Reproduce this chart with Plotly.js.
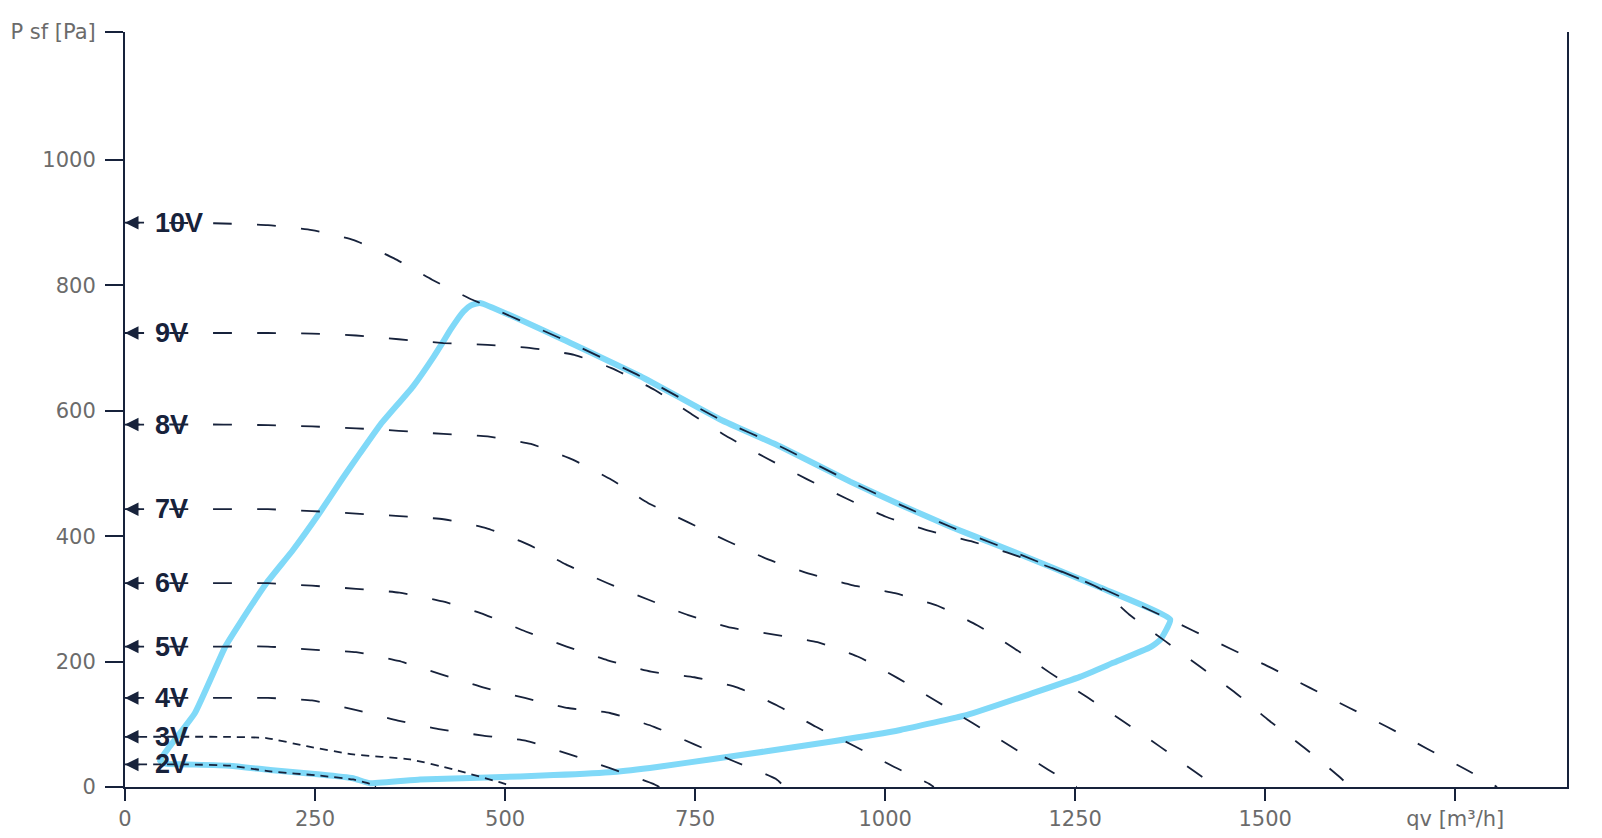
<!DOCTYPE html>
<html>
<head>
<meta charset="utf-8">
<script src="https://cdn.plot.ly/plotly-3.0.1.min.js"></script>
<style>html,body{margin:0;padding:0;background:#fff;}#chart{width:1602px;height:838px;}</style>
</head>
<body>
<div id="chart"></div>
<script>
// ---- data (qv in m3/h, P sf in Pa) ----
const xTickVals = [0, 250, 500, 750, 1000, 1250, 1500, 1750];
const xTickText = ["0", "250", "500", "750", "1000", "1250", "1500", "qv [m\u00b3/h]"];
const yTickVals = [0, 200, 400, 600, 800, 1000, 1204];
const yTickText = ["0", "200", "400", "600", "800", "1000", "P sf [Pa]"];

const voltLabels = ["10V", "9V", "8V", "7V", "6V", "5V", "4V", "3V", "2V"];

const q10 = [0, 117, 188, 246, 301, 354, 404, 457, 467, 572, 678, 783, 862, 954, 1020, 1086, 1151, 1283, 1375, 1404, 1455, 1508, 1559, 1611, 1662, 1713, 1764, 1805];
const p10 = [900, 899, 896, 888, 872, 843, 809, 777, 772, 716, 655, 586, 543, 487, 450, 415, 384, 318, 267, 250, 220, 190, 158, 126, 95, 61, 28, 0];

const q9 = [0, 130, 188, 246, 304, 360, 419, 477, 534, 591, 640, 697, 746, 795, 846, 897, 949, 1001, 1057, 1113, 1160, 1220, 1283, 1321, 1368, 1414, 1461, 1505, 1551, 1596, 1612];
const p9 = [724, 724, 724, 723, 720, 714, 708, 705, 700, 689, 668, 633, 594, 557, 523, 491, 460, 431, 409, 392, 374, 349, 316, 275, 233, 192, 150, 106, 63, 18, 0];

const q8 = [0, 130, 188, 246, 304, 360, 419, 477, 534, 589, 640, 688, 741, 793, 846, 901, 956, 1013, 1069, 1121, 1170, 1217, 1266, 1314, 1362, 1409, 1437];
const p8 = [578, 578, 577, 575, 572, 568, 563, 559, 547, 522, 490, 453, 422, 392, 363, 340, 322, 309, 289, 258, 221, 182, 143, 104, 64, 23, 0];

const q7 = [0, 130, 188, 246, 304, 361, 419, 475, 530, 580, 635, 688, 741, 797, 854, 911, 966, 1016, 1066, 1115, 1165, 1214, 1252];
const p7 = [443, 443, 443, 440, 436, 432, 427, 413, 387, 355, 325, 299, 274, 254, 243, 231, 207, 174, 138, 102, 65, 28, 0];

const q6 = [0, 130, 188, 246, 304, 361, 418, 473, 527, 581, 635, 692, 749, 805, 858, 909, 960, 1012, 1058, 1064];
const p6 = [325, 325, 325, 321, 316, 310, 296, 275, 248, 224, 202, 184, 175, 159, 130, 96, 65, 32, 5, 0];

const q5 = [0, 130, 188, 246, 304, 360, 415, 471, 526, 583, 638, 696, 749, 801, 856, 868];
const p5 = [224, 224, 224, 219, 215, 201, 180, 159, 142, 126, 118, 96, 68, 41, 13, 0];

const q4 = [0, 130, 188, 246, 303, 359, 415, 471, 527, 585, 638, 695, 703];
const p4 = [142, 142, 142, 138, 123, 106, 92, 82, 74, 52, 30, 5, 0];

const q3 = [0, 130, 186, 239, 300, 375, 432, 502, 508];
const p3 = [80, 80, 78, 65, 52, 44, 28, 4, 0];

const q2 = [0, 81, 138, 191, 257, 300, 322, 330];
const p2 = [36, 36, 34, 25, 18, 12, 5, 0];

// working range envelope (light blue loop)
const qEnv = [46, 59, 92, 132, 151, 186, 221, 257, 285, 309, 336, 379, 406, 418, 428, 445, 455, 467,
  572, 678, 783, 862, 954, 1020, 1086, 1151, 1283, 1375,
  1362, 1349, 1300, 1257, 1195, 1108, 1020, 932, 844, 776, 700, 642, 564, 476, 388, 322,
  300, 257, 191, 138, 81, 55, 46];
const pEnv = [42, 65, 118, 224, 261, 325, 378, 439, 490, 532, 578, 639, 686, 709, 729, 758, 768, 772,
  716, 655, 586, 543, 487, 450, 415, 384, 318, 267,
  235, 223, 198, 176, 150, 115, 91, 73, 57, 45, 32, 24, 19, 15, 12, 6,
  14, 20, 27, 34, 36, 37, 42];

// ---- styling ----
const NAVY = "#17223b";
const GRAY = "#6b6b6b";
const BLUE = "#80d9f8";
const LONG_DASH = "19px,25px";
const SHORT_DASH = "8px,6px";

const curves = [
  [q10, p10, LONG_DASH], [q9, p9, LONG_DASH], [q8, p8, LONG_DASH], [q7, p7, LONG_DASH],
  [q6, p6, LONG_DASH], [q5, p5, LONG_DASH], [q4, p4, LONG_DASH], [q3, p3, SHORT_DASH], [q2, p2, SHORT_DASH]
];

const traces = [{
  x: qEnv, y: pEnv, type: "scatter", mode: "lines",
  line: {color: BLUE, width: 6, shape: "spline", smoothing: 0.4}, hoverinfo: "skip"
}];
curves.forEach(c => {
  traces.push({
    x: c[0], y: c[1], type: "scatter", mode: "lines",
    line: {color: NAVY, width: 1.8, dash: c[2], shape: "spline", smoothing: 0.5}, hoverinfo: "skip"
  });
});

const annotations = [];
curves.forEach((c, i) => {
  annotations.push({
    x: 0, y: c[1][0], xref: "x", yref: "y", text: "", showarrow: true,
    ax: 16, ay: 0, arrowhead: 2, arrowsize: 1.35, arrowwidth: 2, arrowcolor: NAVY, standoff: 0
  });
  annotations.push({
    x: 0, y: c[1][0], xref: "x", yref: "y", text: "<b>" + voltLabels[i] + "</b>",
    showarrow: false, xanchor: "left", yanchor: "middle", xshift: 28,
    font: {family: "Liberation Sans, Arial, sans-serif", size: 27, color: NAVY}
  });
});

const axisCommon = {
  showline: true, linecolor: NAVY, linewidth: 2,
  ticks: "outside", tickwidth: 2, tickcolor: NAVY,
  tickfont: {family: "DejaVu Sans, sans-serif", size: 21, color: GRAY},
  showgrid: false, zeroline: false, fixedrange: true
};

const layout = {
  width: 1602, height: 838,
  margin: {l: 125, r: 35, t: 32, b: 51, pad: 0},
  paper_bgcolor: "#ffffff", plot_bgcolor: "#ffffff",
  showlegend: false, hovermode: false,
  xaxis: Object.assign({}, axisCommon, {
    range: [0, 1897], tickmode: "array", tickvals: xTickVals, ticktext: xTickText,
    ticklen: 12, mirror: false
  }),
  yaxis: Object.assign({}, axisCommon, {
    range: [0, 1204], tickmode: "array", tickvals: yTickVals, ticktext: yTickText,
    ticklen: 18, mirror: true, ticklabelstandoff: 5
  }),
  annotations: annotations
};

Plotly.newPlot("chart", traces, layout, {staticPlot: true, displayModeBar: false});
</script>
</body>
</html>
